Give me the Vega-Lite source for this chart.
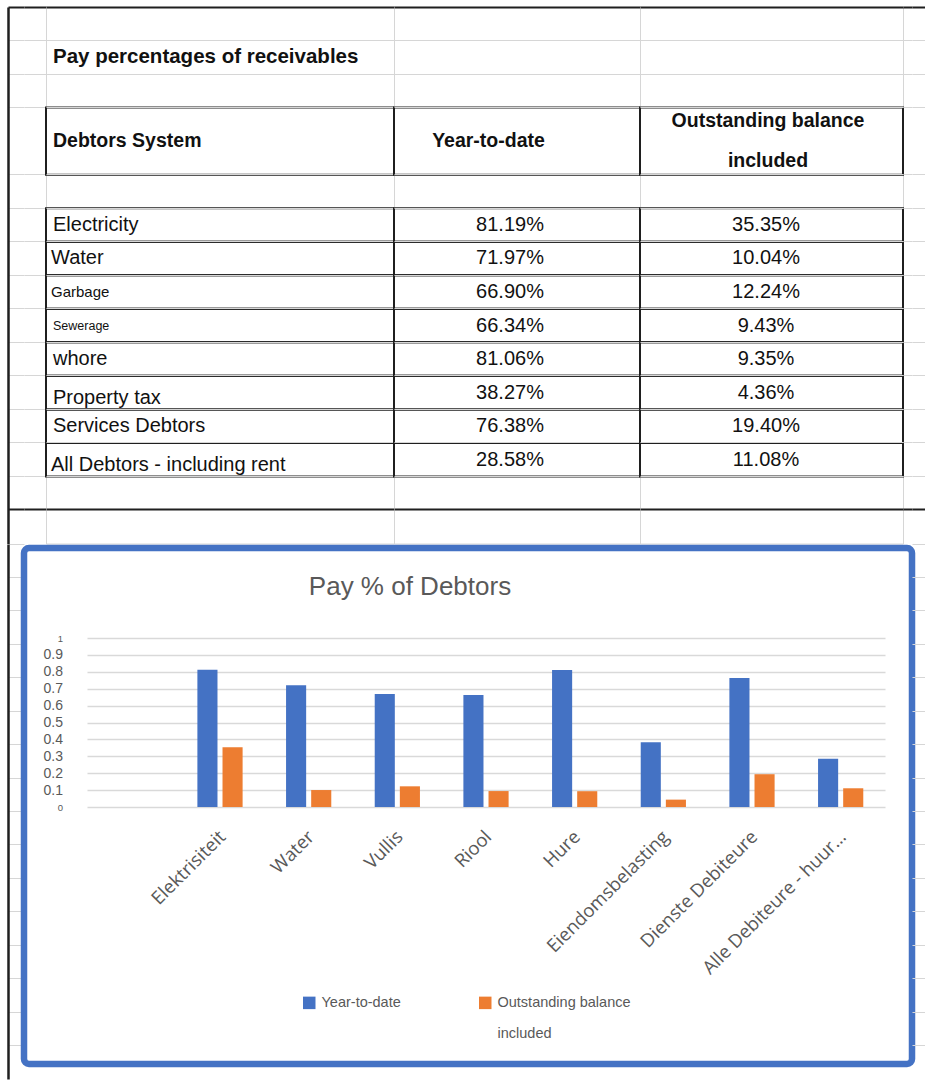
{
  "$schema": "https://vega.github.io/schema/vega-lite/v6.json",
  "background": "white",
  "padding": {"left": 8, "top": 6, "right": 0, "bottom": 0},
  "spacing": 0,
  "config": {
    "view": {"stroke": null},
    "text": {"font": "Liberation Sans", "color": "#111111"}
  },
  "datasets": {
    "receivables": [
      {"system": "Electricity", "category": "Elektrisiteit", "Year-to-date": 0.8119, "Outstanding balance included": 0.3535},
      {"system": "Water", "category": "Water", "Year-to-date": 0.7197, "Outstanding balance included": 0.1004},
      {"system": "Garbage", "category": "Vullis", "Year-to-date": 0.669, "Outstanding balance included": 0.1224},
      {"system": "Sewerage", "category": "Riool", "Year-to-date": 0.6634, "Outstanding balance included": 0.0943},
      {"system": "whore", "category": "Hure", "Year-to-date": 0.8106, "Outstanding balance included": 0.0935},
      {"system": "Property tax", "category": "Eiendomsbelasting", "Year-to-date": 0.3827, "Outstanding balance included": 0.0436},
      {"system": "Services Debtors", "category": "Dienste Debiteure", "Year-to-date": 0.7638, "Outstanding balance included": 0.194},
      {"system": "All Debtors - including rent", "category": "Alle Debiteure - huur ingesluit", "Year-to-date": 0.2858, "Outstanding balance included": 0.1108}
    ]
  },
  "vconcat": [
    {
      "bounds": "flush",
      "spacing": 0,
      "hconcat": [
        {
          "width": 16,
          "height": 536.5,
          "data": {"name": "receivables"},
          "mark": {"type": "rect", "opacity": 0},
          "encoding": {
            "y": {
              "field": "system", "type": "nominal",
              "scale": {"domain": ["top", "title", "spacer", "header", "header-2", "gap", "Electricity", "Water", "Garbage", "Sewerage", "whore", "Property tax", "Services Debtors", "All Debtors - including rent", "after", "below"], "paddingInner": 0, "paddingOuter": 0},
              "axis": {
                "title": null, "labels": false, "ticks": false, "grid": true, "bandPosition": 0,
                "domain": true, "domainColor": "#1f1f1f", "domainWidth": 2.5,
                "gridColor": {"condition": {"test": "datum.value === 'top' || datum.value === 'below'", "value": "#1f1f1f"}, "value": "#d6d6d6"},
                "gridWidth": {"condition": {"test": "datum.value === 'top' || datum.value === 'below'", "value": 2}, "value": 1},
                "gridOpacity": {"condition": {"test": "datum.value === 'header-2'", "value": 0}, "value": 1}
              }
            }
          }
        },
        {
          "width": 22,
          "height": 536.5,
          "data": {"name": "receivables"},
          "mark": {"type": "rect", "opacity": 0},
          "encoding": {
            "y": {
              "field": "system", "type": "nominal",
              "scale": {"domain": ["top", "title", "spacer", "header", "header-2", "gap", "Electricity", "Water", "Garbage", "Sewerage", "whore", "Property tax", "Services Debtors", "All Debtors - including rent", "after", "below"], "paddingInner": 0, "paddingOuter": 0},
              "axis": {
                "title": null, "labels": false, "ticks": false, "domain": false, "grid": true, "bandPosition": 0,
                "gridColor": {"condition": {"test": "datum.value === 'top' || datum.value === 'below'", "value": "#1f1f1f"}, "value": "#d6d6d6"},
                "gridWidth": {"condition": {"test": "datum.value === 'top' || datum.value === 'below'", "value": 2}, "value": 1},
                "gridOpacity": {"condition": {"test": "datum.value === 'header-2'", "value": 0}, "value": 1}
              }
            }
          }
        },
        {
          "width": 348,
          "height": 536.5,
          "view": {"stroke": "#d6d6d6"},
          "layer": [
            {
              "data": {"name": "receivables"},
              "mark": {"type": "rect", "fill": "transparent", "stroke": "#1f1f1f", "strokeWidth": 2},
              "encoding": {
                "y": {
                  "field": "system", "type": "nominal",
                  "scale": {"domain": ["top", "title", "spacer", "header", "header-2", "gap", "Electricity", "Water", "Garbage", "Sewerage", "whore", "Property tax", "Services Debtors", "All Debtors - including rent", "after", "below"], "paddingInner": 0, "paddingOuter": 0},
                  "axis": {
                    "title": null, "labels": false, "ticks": false, "domain": false, "grid": true, "bandPosition": 0,
                    "gridColor": {"condition": {"test": "datum.value === 'top' || datum.value === 'below'", "value": "#1f1f1f"}, "value": "#d6d6d6"},
                    "gridWidth": {"condition": {"test": "datum.value === 'top' || datum.value === 'below'", "value": 2}, "value": 1},
                    "gridOpacity": {"condition": {"test": "datum.value === 'header-2'", "value": 0}, "value": 1}
                  }
                }
              }
            },
            {
              "data": {"values": [{"heading": "Debtors System"}]},
              "mark": {"type": "rect", "fill": "transparent", "stroke": "#1f1f1f", "strokeWidth": 2},
              "encoding": {
                "y": {"datum": "header", "type": "nominal", "bandPosition": 0},
                "y2": {"datum": "gap", "bandPosition": 0}
              }
            },
            {
              "data": {"values": [{"sheetTitle": "Pay percentages of receivables"}]},
              "mark": {"type": "text", "align": "left", "baseline": "middle", "dx": 7, "fontSize": 20.5, "fontWeight": "bold"},
              "encoding": {
                "x": {"datum": "Debtors System", "type": "nominal", "scale": {"type": "point", "padding": 0, "align": 0}, "axis": null},
                "y": {"datum": "title", "type": "nominal"},
                "text": {"field": "sheetTitle"}
              }
            },
            {
              "data": {"values": [{"heading": "Debtors System"}]},
              "mark": {"type": "text", "align": "left", "baseline": "middle", "dx": 7, "fontSize": 19.5, "fontWeight": "bold"},
              "encoding": {
                "x": {"datum": "Debtors System", "type": "nominal"},
                "y": {"datum": "header-2", "type": "nominal", "bandPosition": 0},
                "text": {"field": "heading"}
              }
            },
            {
              "data": {"name": "receivables"},
              "mark": {
                "type": "text", "align": "left", "baseline": "middle",
                "dx": {"expr": "indexof(['Water', 'Garbage', 'All Debtors - including rent'], datum.system) >= 0 ? 5 : 7"},
                "dy": {"expr": "datum.system === 'Property tax' || datum.system === 'All Debtors - including rent' ? 5 : 0"},
                "fontSize": {"expr": "datum.system === 'Garbage' ? 15 : datum.system === 'Sewerage' ? 12.5 : 20"}
              },
              "encoding": {
                "x": {"datum": "Debtors System", "type": "nominal"},
                "y": {"field": "system", "type": "nominal"},
                "text": {"field": "system"}
              }
            }
          ]
        },
        {
          "width": 246,
          "height": 536.5,
          "view": {"stroke": "#d6d6d6"},
          "layer": [
            {
              "data": {"name": "receivables"},
              "mark": {"type": "rect", "fill": "transparent", "stroke": "#1f1f1f", "strokeWidth": 2},
              "encoding": {
                "y": {
                  "field": "system", "type": "nominal",
                  "scale": {"domain": ["top", "title", "spacer", "header", "header-2", "gap", "Electricity", "Water", "Garbage", "Sewerage", "whore", "Property tax", "Services Debtors", "All Debtors - including rent", "after", "below"], "paddingInner": 0, "paddingOuter": 0},
                  "axis": {
                    "title": null, "labels": false, "ticks": false, "domain": false, "grid": true, "bandPosition": 0,
                    "gridColor": {"condition": {"test": "datum.value === 'top' || datum.value === 'below'", "value": "#1f1f1f"}, "value": "#d6d6d6"},
                    "gridWidth": {"condition": {"test": "datum.value === 'top' || datum.value === 'below'", "value": 2}, "value": 1},
                    "gridOpacity": {"condition": {"test": "datum.value === 'header-2'", "value": 0}, "value": 1}
                  }
                }
              }
            },
            {
              "data": {"values": [{"heading": "Year-to-date"}]},
              "mark": {"type": "rect", "fill": "transparent", "stroke": "#1f1f1f", "strokeWidth": 2},
              "encoding": {
                "y": {"datum": "header", "type": "nominal", "bandPosition": 0},
                "y2": {"datum": "gap", "bandPosition": 0}
              }
            },
            {
              "data": {"values": [{"heading": "Year-to-date"}]},
              "mark": {"type": "text", "align": "center", "baseline": "middle", "dx": -28.5, "fontSize": 19.5, "fontWeight": "bold"},
              "encoding": {
                "x": {"datum": "Year-to-date", "type": "nominal", "scale": {"paddingInner": 0, "paddingOuter": 0}, "axis": null},
                "y": {"datum": "header-2", "type": "nominal", "bandPosition": 0},
                "text": {"field": "heading"}
              }
            },
            {
              "data": {"name": "receivables"},
              "mark": {"type": "text", "align": "center", "baseline": "middle", "dx": -7, "fontSize": 20},
              "encoding": {
                "x": {"datum": "Year-to-date", "type": "nominal"},
                "y": {"field": "system", "type": "nominal"},
                "text": {"field": "Year-to-date", "type": "quantitative", "format": ".2%"}
              }
            }
          ]
        },
        {
          "width": 263,
          "height": 536.5,
          "view": {"stroke": "#d6d6d6"},
          "layer": [
            {
              "data": {"name": "receivables"},
              "mark": {"type": "rect", "fill": "transparent", "stroke": "#1f1f1f", "strokeWidth": 2},
              "encoding": {
                "y": {
                  "field": "system", "type": "nominal",
                  "scale": {"domain": ["top", "title", "spacer", "header", "header-2", "gap", "Electricity", "Water", "Garbage", "Sewerage", "whore", "Property tax", "Services Debtors", "All Debtors - including rent", "after", "below"], "paddingInner": 0, "paddingOuter": 0},
                  "axis": {
                    "title": null, "labels": false, "ticks": false, "domain": false, "grid": true, "bandPosition": 0,
                    "gridColor": {"condition": {"test": "datum.value === 'top' || datum.value === 'below'", "value": "#1f1f1f"}, "value": "#d6d6d6"},
                    "gridWidth": {"condition": {"test": "datum.value === 'top' || datum.value === 'below'", "value": 2}, "value": 1},
                    "gridOpacity": {"condition": {"test": "datum.value === 'header-2'", "value": 0}, "value": 1}
                  }
                }
              }
            },
            {
              "data": {"values": [{"heading": "Outstanding balance\nincluded"}]},
              "mark": {"type": "rect", "fill": "transparent", "stroke": "#1f1f1f", "strokeWidth": 2},
              "encoding": {
                "y": {"datum": "header", "type": "nominal", "bandPosition": 0},
                "y2": {"datum": "gap", "bandPosition": 0}
              }
            },
            {
              "data": {"values": [{"heading": "Outstanding balance\nincluded"}]},
              "mark": {"type": "text", "align": "center", "baseline": "middle", "dx": -3.5, "dy": -20, "fontSize": 19.5, "fontWeight": "bold", "lineBreak": "\n", "lineHeight": 40},
              "encoding": {
                "x": {"datum": "Outstanding balance included", "type": "nominal", "scale": {"paddingInner": 0, "paddingOuter": 0}, "axis": null},
                "y": {"datum": "header-2", "type": "nominal", "bandPosition": 0},
                "text": {"field": "heading"}
              }
            },
            {
              "data": {"name": "receivables"},
              "mark": {"type": "text", "align": "center", "baseline": "middle", "dx": -5.5, "fontSize": 20},
              "encoding": {
                "x": {"datum": "Outstanding balance included", "type": "nominal"},
                "y": {"field": "system", "type": "nominal"},
                "text": {"field": "Outstanding balance included", "type": "quantitative", "format": ".2%"}
              }
            }
          ]
        },
        {
          "width": 9,
          "height": 536.5,
          "data": {"name": "receivables"},
          "mark": {"type": "rect", "opacity": 0},
          "encoding": {
            "y": {
              "field": "system", "type": "nominal",
              "scale": {"domain": ["top", "title", "spacer", "header", "header-2", "gap", "Electricity", "Water", "Garbage", "Sewerage", "whore", "Property tax", "Services Debtors", "All Debtors - including rent", "after", "below"], "paddingInner": 0, "paddingOuter": 0},
              "axis": {
                "title": null, "labels": false, "ticks": false, "domain": false, "grid": true, "bandPosition": 0,
                "gridColor": {"condition": {"test": "datum.value === 'top' || datum.value === 'below'", "value": "#1f1f1f"}, "value": "#d6d6d6"},
                "gridWidth": {"condition": {"test": "datum.value === 'top' || datum.value === 'below'", "value": 2}, "value": 1},
                "gridOpacity": {"condition": {"test": "datum.value === 'header-2'", "value": 0}, "value": 1}
              }
            }
          }
        },
        {
          "width": 13,
          "height": 536.5,
          "data": {"name": "receivables"},
          "mark": {"type": "rect", "opacity": 0},
          "encoding": {
            "y": {
              "field": "system", "type": "nominal",
              "scale": {"domain": ["top", "title", "spacer", "header", "header-2", "gap", "Electricity", "Water", "Garbage", "Sewerage", "whore", "Property tax", "Services Debtors", "All Debtors - including rent", "after", "below"], "paddingInner": 0, "paddingOuter": 0},
              "axis": {
                "title": null, "labels": false, "ticks": false, "domain": false, "grid": true, "bandPosition": 0,
                "gridColor": {"condition": {"test": "datum.value === 'top' || datum.value === 'below'", "value": "#1f1f1f"}, "value": "#d6d6d6"},
                "gridWidth": {"condition": {"test": "datum.value === 'top' || datum.value === 'below'", "value": 2}, "value": 1},
                "gridOpacity": {"condition": {"test": "datum.value === 'header-2'", "value": 0}, "value": 1}
              }
            }
          }
        }
      ]
    },
    {
      "bounds": "flush",
      "spacing": 0,
      "hconcat": [
        {
          "width": 16,
          "height": 531,
          "data": {"name": "receivables"},
          "mark": {"type": "rect", "opacity": 0},
          "encoding": {
            "y": {
              "field": "system", "type": "nominal",
              "scale": {"domain": ["row 17", "row 18", "row 19", "row 20", "row 21", "row 22", "row 23", "row 24", "row 25", "row 26", "row 27", "row 28", "row 29", "row 30", "row 31", "row 32"], "range": [-4, 531], "paddingInner": 0, "paddingOuter": 0},
              "axis": {
                "title": null, "labels": false, "ticks": false, "grid": true, "bandPosition": 0,
                "domain": true, "domainColor": "#1f1f1f", "domainWidth": 2.5,
                "gridColor": "#d6d6d6", "gridWidth": 1
              }
            }
          }
        },
        {
          "width": 888,
          "height": 516,
          "view": {"stroke": "#4472C4", "strokeWidth": 6.5, "cornerRadius": 5, "fill": "white"},
          "title": {
            "text": "Pay % of Debtors", "frame": "group", "anchor": "middle", "dx": -58, "offset": -52,
            "font": "Liberation Sans", "fontSize": 26, "fontWeight": "normal", "color": "#595959"
          },
          "data": {"name": "receivables"},
          "transform": [{"fold": ["Year-to-date", "Outstanding balance included"], "as": ["series", "share"]}],
          "mark": {"type": "bar"},
          "encoding": {
            "x": {
              "field": "category", "type": "nominal", "title": null,
              "scale": {
                "domain": ["", "Elektrisiteit", "Water", "Vullis", "Riool", "Hure", "Eiendomsbelasting", "Dienste Debiteure", "Alle Debiteure - huur ingesluit"],
                "range": [63, 861], "paddingInner": 0.49, "paddingOuter": 0.245
              },
              "axis": {
                "orient": "bottom", "offset": -257, "labelAngle": -45, "labelAlign": "right", "labelBaseline": "top",
                "labelFont": "Open Sans", "labelFontSize": 18.5, "labelColor": "#595959",
                "labelPadding": 20, "labelOffset": -4, "labelLimit": 195, "labelOverlap": false,
                "ticks": false, "domain": false, "grid": false
              }
            },
            "xOffset": {
              "field": "series", "type": "nominal",
              "scale": {"domain": ["Year-to-date", "Outstanding balance included"], "paddingInner": 0.2, "paddingOuter": 0}
            },
            "y": {
              "field": "share", "type": "quantitative", "title": null,
              "scale": {"domain": [0, 1], "range": [259, 90], "nice": false},
              "axis": {
                "orient": "left", "offset": -40, "values": [0, 0.1, 0.2, 0.3, 0.4, 0.5, 0.6, 0.7, 0.8, 0.9, 1], "format": "~g",
                "labelFont": "Liberation Sans",
                "labelFontSize": {"condition": {"test": "datum.value === 0 || datum.value === 1", "value": 9.5}, "value": 14},
                "labelColor": "#595959", "labelPadding": 1.5, "ticks": false, "tickSize": 0, "domain": false,
                "grid": true, "gridColor": "#d9d9d9", "gridWidth": 1.3
              }
            },
            "color": {
              "field": "series", "type": "nominal",
              "scale": {"domain": ["Year-to-date", "Outstanding balance included"], "range": ["#4472C4", "#ED7D31"]},
              "legend": {
                "orient": "none", "legendX": 294, "legendY": 988.5, "direction": "horizontal", "title": null,
                "symbolType": "square", "symbolSize": 156, "symbolStrokeWidth": 0,
                "labelFont": "Liberation Sans", "labelFontSize": 14.5, "labelColor": "#595959",
                "labelOffset": 5, "columnPadding": 77, "labelBaseline": "top",
                "labelExpr": "datum.label === 'Outstanding balance included' ? ['Outstanding balance', ' included'] : [datum.label, ' ']",
                "encoding": {"labels": {"dy": {"value": -7}, "lineHeight": {"value": 31}}}
              }
            }
          }
        },
        {
          "width": 13,
          "height": 531,
          "data": {"name": "receivables"},
          "mark": {"type": "rect", "opacity": 0},
          "encoding": {
            "y": {
              "field": "system", "type": "nominal",
              "scale": {"domain": ["row 17", "row 18", "row 19", "row 20", "row 21", "row 22", "row 23", "row 24", "row 25", "row 26", "row 27", "row 28", "row 29", "row 30", "row 31", "row 32"], "range": [-4, 531], "paddingInner": 0, "paddingOuter": 0},
              "axis": {
                "title": null, "labels": false, "ticks": false, "domain": false, "grid": true, "bandPosition": 0,
                "gridColor": "#d6d6d6", "gridWidth": 1
              }
            }
          }
        }
      ]
    }
  ]
}
